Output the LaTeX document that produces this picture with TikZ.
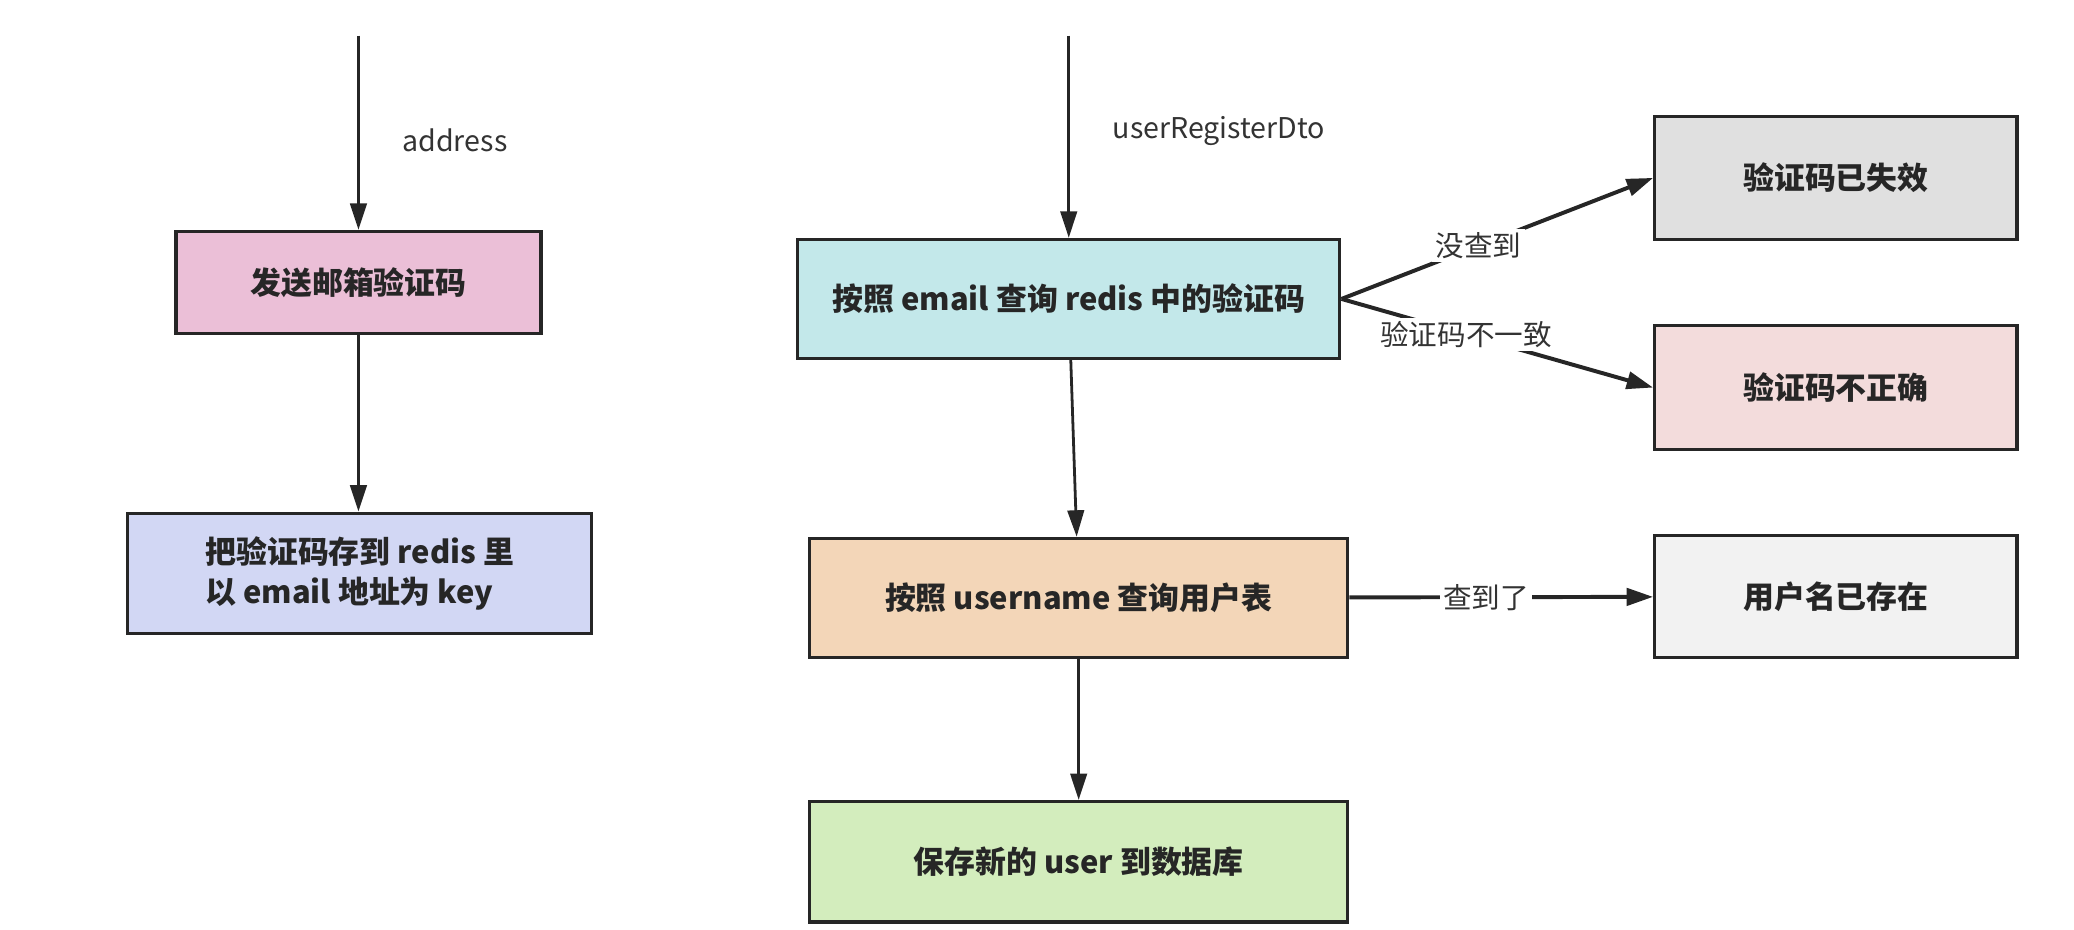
\documentclass[tikz,border=0pt]{standalone}
\usepackage{fontspec}
\setmainfont{Noto Sans CJK SC}
\usepackage{xcolor}
\usetikzlibrary{arrows.meta}
\definecolor{ink}{HTML}{262626}
\definecolor{txt}{HTML}{333333}
\definecolor{pinkfill}{HTML}{EBBFD7}
\definecolor{lavfill}{HTML}{D2D7F4}
\definecolor{cyanfill}{HTML}{C3E8EA}
\definecolor{greyfill}{HTML}{E0E0E0}
\definecolor{rosefill}{HTML}{F3DCDC}
\definecolor{orangefill}{HTML}{F3D6B8}
\definecolor{lightfill}{HTML}{F2F2F2}
\definecolor{greenfill}{HTML}{D3EDBD}
\tikzset{
  box/.style={draw=ink, line width=1.4pt, rectangle, text=ink,
    font=\fontsize{13.3}{17}\selectfont\bfseries, inner sep=2pt},
  flow/.style={-{Triangle[length=0.4cm,width=0.25cm]}, draw=ink, line width=1.2pt},
  side/.style={-{Triangle[length=0.4cm,width=0.26cm]}, draw=ink, line width=1.7pt},
  lab/.style={text=txt, font=\fontsize{12.3}{14}\selectfont},
  cut/.style={lab, fill=white, inner sep=1.5pt}
}
\begin{document}
\begin{tikzpicture}[x=0.02cm,y=-0.02cm]
  \useasboundingbox (0,0) rectangle (1568,703);

  % left flow: send code
  \coordinate (in1) at (271,27);
  \node[box, fill=pinkfill, minimum width=5.52cm, minimum height=1.54cm] (send) at (271,213.5) {发送邮箱验证码};
  \node[box, fill=lavfill, minimum width=7.02cm, minimum height=1.82cm, align=left] (store) at (272,433.5)
    {把验证码存到 redis 里\\以 email 地址为 key};

  \draw[flow] (in1) -- (send) node[lab, pos=0.54, right=15pt] {address};
  \draw[flow] (send) -- (store.north -| send);

  % right flow: register
  \coordinate (in2) at (808,27);
  \node[box, fill=cyanfill, minimum width=8.2cm, minimum height=1.8cm] (query) at (808,226) {按照 email 查询 redis 中的验证码};
  \node[box, fill=greyfill, minimum width=5.48cm, minimum height=1.86cm] (expired) at (1388,134.5) {验证码已失效};
  \node[box, fill=rosefill, minimum width=5.48cm, minimum height=1.88cm] (wrong) at (1388,293) {验证码不正确};
  \node[box, fill=orangefill, minimum width=8.14cm, minimum height=1.8cm] (user) at (815.5,452) {按照 username 查询用户表};
  \node[box, fill=lightfill, minimum width=5.48cm, minimum height=1.84cm] (exists) at (1388,451) {用户名已存在};
  \node[box, fill=greenfill, minimum width=8.14cm, minimum height=1.82cm] (save) at (815.5,651.5) {保存新的 user 到数据库};

  \draw[flow] (in2) -- (query) node[lab, pos=0.47, right=15pt] {userRegisterDto};
  \draw[side] (query.east) -- (expired.west) node[cut, pos=0.44] {没查到};
  \draw[side] (query.east) -- (wrong.west) node[cut, pos=0.4] {验证码不一致};
  \draw[flow] (query) -- (user);
  \draw[side] (user) -- (exists) node[cut, pos=0.45] {查到了};
  \draw[flow] (user) -- (save);
\end{tikzpicture}
\end{document}
